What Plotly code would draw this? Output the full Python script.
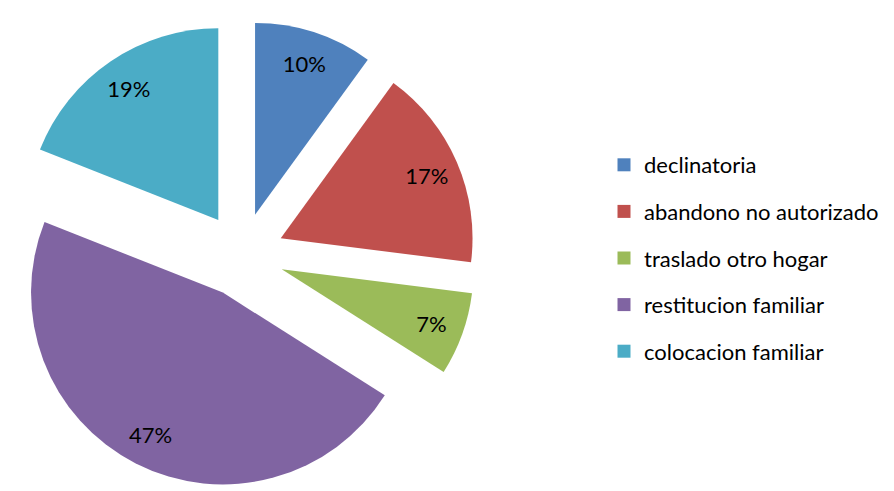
import plotly.graph_objects as go

categories = ["declinatoria", "abandono no autorizado", "traslado otro hogar",
              "restitucion familiar", "colocacion familiar"]
values = [10, 17, 7, 47, 19]
colors = ["#4F81BD", "#C0504D", "#9BBB59", "#8064A2", "#4BACC6"]

# The page body adds an 8px margin, so the figure is 8px smaller each way.
W, H = 886, 483
PULL = 0.22
HALF = 234  # half side of the pie box (px)
CY = 247    # pie centre from top (px)
dom_x = [0, 2 * HALF / W]
dom_y = [max(0, 1 - (CY + HALF) / H), 1 - (CY - HALF) / H]
FONT = "Lato, Calibri, 'Open Sans', sans-serif"

fig = go.Figure()

# Main exploded pie (no text)
fig.add_trace(go.Pie(
    labels=categories, values=values, sort=False, direction="clockwise",
    rotation=0, pull=[PULL] * len(values),
    marker=dict(colors=colors, line=dict(width=0)),
    textinfo="none", showlegend=False, hoverinfo="label+percent",
    domain=dict(x=dom_x, y=dom_y),
))

# Transparent ring on top, only to place the percentage labels near the rim
fig.add_trace(go.Pie(
    labels=categories, values=values, sort=False, direction="clockwise",
    rotation=0, pull=[PULL] * len(values), hole=0.66,
    marker=dict(colors=["rgba(0,0,0,0)"] * len(values), line=dict(width=0)),
    textinfo="percent", textposition="inside",
    insidetextorientation="horizontal",
    insidetextfont=dict(family=FONT, size=22, color="#000000"),
    showlegend=False, hoverinfo="skip",
    domain=dict(x=dom_x, y=dom_y),
))

# Legend entries (one group each so they can be spaced)
for i, (cat, col) in enumerate(zip(categories, colors)):
    fig.add_trace(go.Scatter(
        x=[None], y=[None], mode="markers", name=cat,
        marker=dict(symbol="square", size=13, color=col),
        legendgroup=f"g{i}", showlegend=True,
    ))

fig.update_layout(
    width=W, height=H,
    margin=dict(l=0, r=0, t=0, b=0),
    paper_bgcolor="white", plot_bgcolor="white",
    xaxis=dict(visible=False), yaxis=dict(visible=False),
    legend=dict(
        x=596 / W, xanchor="left", y=1 - 136 / H, yanchor="top",
        font=dict(family=FONT, size=22, color="#000000"),
        tracegroupgap=15, traceorder="grouped",
        bgcolor="rgba(0,0,0,0)", borderwidth=0,
    ),
    font=dict(family=FONT),
)

fig.write_html("out.html")
